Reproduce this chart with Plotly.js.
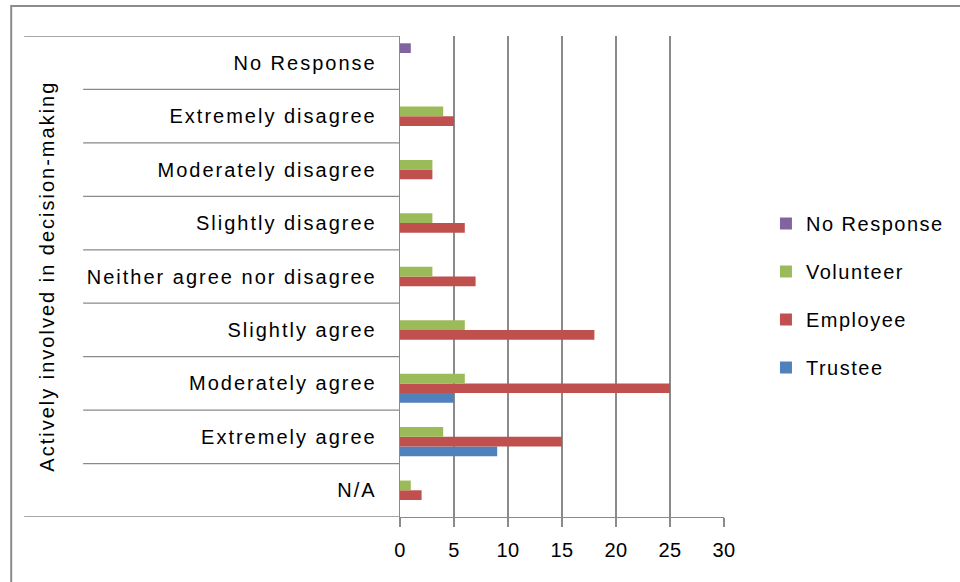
<!DOCTYPE html>
<html>
<head>
<meta charset="utf-8">
<script src="https://cdn.plot.ly/plotly-3.0.1.min.js"></script>
<style>
  html, body { margin: 0; padding: 0; background: #ffffff; }
  #chart { width: 960px; height: 582px; }
  /* wide, office-style text tracking */
  .ytick text { letter-spacing: 2px; }
  .annotation-text { letter-spacing: 2px; }
  .legendtext { letter-spacing: 1.5px; }
  .xtick text { letter-spacing: 0.5px; }
</style>
</head>
<body>
<div id="chart"></div>
<script>
// Response categories, bottom to top
const categories = [
  'N/A',
  'Extremely agree',
  'Moderately agree',
  'Slightly agree',
  'Neither agree nor disagree',
  'Slightly disagree',
  'Moderately disagree',
  'Extremely disagree',
  'No Response'
];

// Counts per respondent group (null = no bar)
const trustee    = [null, 9, 5, null, null, null, null, null, null];
const employee   = [2, 15, 25, 18, 7, 6, 3, 5, null];
const volunteer  = [1, 4, 6, 6, 3, 3, 3, 4, null];
const noResponse = [null, null, null, null, null, null, null, null, 1];

const xTickValues = [0, 5, 10, 15, 20, 25, 30];
const axisTitle = 'Actively involved in decision-making';

const gridGray = '#8a8a8a';
const font = { family: '"Liberation Sans", Arial, sans-serif', size: 20, color: '#000000' };

function series(name, values, color, group, rank) {
  return {
    type: 'bar',
    orientation: 'h',
    name: name,
    x: values,
    y: categories,
    legendgroup: group,
    legendrank: rank,
    marker: { color: color, line: { width: 0 } },
    hoverinfo: 'x+y+name'
  };
}

// first series sits at the bottom of each group; legend lists it last
const traces = [
  series('Trustee', trustee, '#4F81BD', 'g1', 4),
  series('Employee', employee, '#C0504D', 'g2', 3),
  series('Volunteer', volunteer, '#9BBB59', 'g3', 2),
  series('No Response', noResponse, '#8064A2', 'g4', 1)
];

// Category boundary lines that run out to the left under the labels
const shapes = [];
for (let i = 0; i <= categories.length; i++) {
  const yPos = i - 0.5;
  const outer = (i === 0 || i === categories.length);
  shapes.push({
    type: 'line', xref: 'paper', yref: 'y',
    x0: outer ? -1.16 : -0.978, x1: 0, y0: yPos, y1: yPos,
    line: { color: gridGray, width: 1.3 }
  });
}
// outer chart frame
shapes.push({
  type: 'rect', xref: 'paper', yref: 'paper',
  x0: -1.2, x1: 1.75, y0: -0.2, y1: 1.0625,
  line: { color: '#8c8c8c', width: 2 }, fillcolor: 'rgba(0,0,0,0)', layer: 'below'
});

const layout = {
  width: 960,
  height: 582,
  margin: { l: 400, r: 235, t: 36, b: 65 },
  paper_bgcolor: '#ffffff',
  plot_bgcolor: '#ffffff',
  font: font,
  barmode: 'group',
  bargap: 0.2727,
  bargroupgap: 0,
  showlegend: true,
  legend: {
    traceorder: 'grouped',
    tracegroupgap: 19,
    x: 1.126, xanchor: 'left',
    y: 0.4605, yanchor: 'middle',
    font: font,
    bgcolor: 'rgba(0,0,0,0)'
  },
  xaxis: {
    range: [0, 30],
    tickvals: xTickValues,
    ticktext: xTickValues.map(String),
    showgrid: true,
    gridcolor: gridGray,
    gridwidth: 1.3,
    zeroline: false,
    showline: true,
    linecolor: gridGray,
    linewidth: 1.3,
    ticks: 'outside',
    ticklen: 9,
    tickcolor: gridGray,
    tickwidth: 1.3,
    ticklabelstandoff: 6,
    tickfont: font,
    fixedrange: true
  },
  yaxis: {
    type: 'category',
    categoryorder: 'array',
    categoryarray: categories,
    range: [-0.5, categories.length - 0.5],
    showgrid: false,
    zeroline: false,
    showline: true,
    linecolor: gridGray,
    linewidth: 1.3,
    ticks: '',
    ticklabelstandoff: 18,
    tickfont: font,
    fixedrange: true
  },
  shapes: shapes,
  annotations: [{
    text: axisTitle,
    xref: 'paper', yref: 'paper',
    x: -1.092, y: 0.5,
    xanchor: 'center', yanchor: 'middle',
    textangle: -90,
    showarrow: false,
    font: font
  }]
};

Plotly.newPlot('chart', traces, layout, { displayModeBar: false, staticPlot: true });
</script>
</body>
</html>
